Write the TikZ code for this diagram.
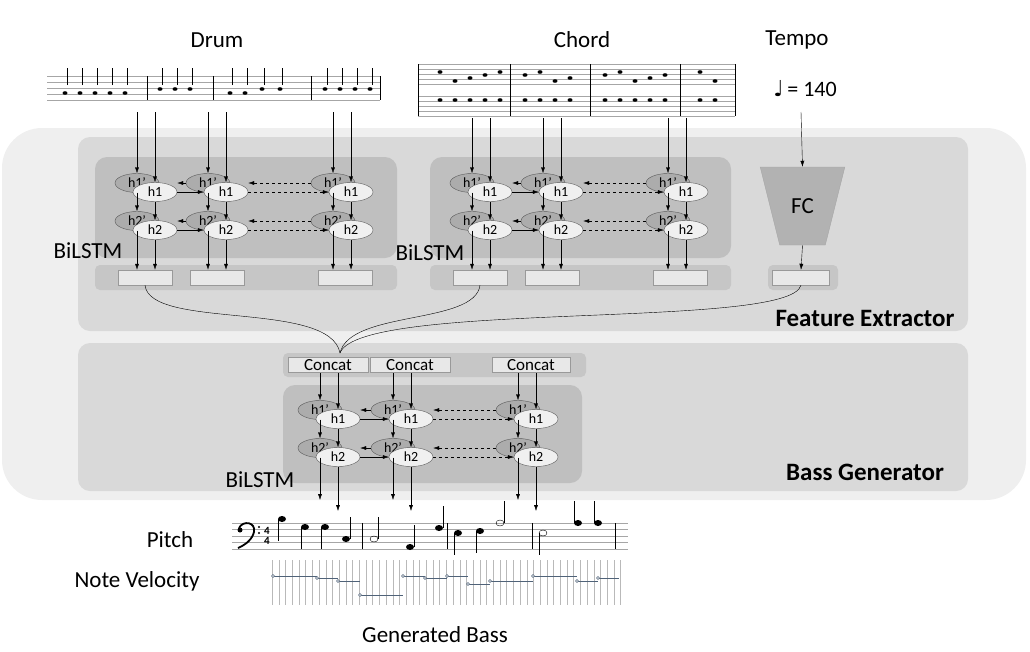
\documentclass[tikz,border=0pt]{standalone}
\usepackage{fontspec}
\setmainfont{Carlito}
\newfontfamily\symfont{DejaVu Sans}
\usetikzlibrary{arrows.meta,shapes.geometric,positioning,calc}
\definecolor{outerbg}{HTML}{EFEFEF}
\definecolor{featbg}{HTML}{D9D9D9}
\definecolor{innerbg}{HTML}{BFBFBF}
\definecolor{barbg}{HTML}{C6C6C6}
\definecolor{velo}{HTML}{4F6278}
\tikzset{
  panel/.style  = {rounded corners=12pt, draw=none},
  cellb/.style  = {ellipse, draw=gray!70!black, fill=gray!65, inner sep=0pt,
                   minimum width=44pt, minimum height=19pt, font=\fontsize{14}{12}\selectfont},
  cellf/.style  = {ellipse, draw=gray!70!black, fill=gray!12, inner sep=0pt,
                   minimum width=44pt, minimum height=19pt, font=\fontsize{14}{12}\selectfont},
  outbox/.style = {draw=gray!80, fill=gray!18, minimum height=15pt, inner sep=0pt},
  arr/.style    = {-{Latex[length=6pt,width=4pt]}, thin},
  label/.style  = {font=\fontsize{23}{23}\selectfont},
  title/.style  = {font=\bfseries\fontsize{25}{25}\selectfont}
}
% one BiLSTM stack: name, three column x, y of h1', y where inputs start
\newcommand{\lstmblock}[6]{%
  \foreach \c/\x in {1/#2,2/#3,3/#4}{
    \node[cellb] (#1\c p1) at (\x,#5) {h1'};
    \node[cellf] (#1\c f1) at (\x+18,#5+9) {h1};
    \node[cellb] (#1\c p2) at (\x,#5+38) {h2'};
    \node[cellf] (#1\c f2) at (\x+18,#5+47) {h2};
    \coordinate (#1\c ip) at (\x,#6);
    \coordinate (#1\c if) at (\x+18,#6);
    \draw[arr] (#1\c ip) -- (#1\c p1);
    \draw[arr] (#1\c if) -- (#1\c f1);
    \draw[arr] (#1\c p1) -- (#1\c p2);
    \draw[arr] (#1\c f1) -- (#1\c f2);
  }
  \foreach \r in {1,2}{
    \draw[arr] (#11f\r.east) -- (#12f\r.west);
    \draw[arr,dashed] (#12f\r.east) -- (#13f\r.west);
    \draw[arr] (#12p\r.west) -- (#11p\r.east -| #11f\r.east);
    \draw[arr,dashed] (#13p\r.west) -- (#12p\r.east -| #12f\r.east);
  }
}
\begin{document}
\begin{tikzpicture}[x=1pt,y=-1pt]
  \useasboundingbox (0,0) rectangle (1030,651);

  % panels
  \fill[outerbg,panel,rounded corners=40pt] (2,128) rectangle (1026,500);
  \fill[featbg,panel] (78,137) rectangle (968,331);
  \fill[featbg,panel] (78,343) rectangle (968,491);
  \fill[innerbg,panel] (95,157) rectangle (397,258);
  \fill[innerbg,panel] (430,157) rectangle (731,258);
  \fill[innerbg,panel] (283,385) rectangle (582,483);
  \fill[barbg,rounded corners=5pt] (95,265) rectangle (397,290);
  \fill[barbg,rounded corners=5pt] (430,265) rectangle (731,290);
  \fill[barbg,rounded corners=5pt] (768,265) rectangle (838,290);
  \fill[barbg,rounded corners=5pt] (283,353) rectangle (586,377);

  % output boxes
  \foreach \n/\x in {d1/145,d2/217,d3/345,c1/480,c2/552,c3/680}
    \node[outbox,minimum width=54pt] (box\n) at (\x,277.5) {};
  \node[outbox,minimum width=57pt] (boxfc) at (801,277.5) {};
  \node[outbox,minimum width=80pt,font=\fontsize{17}{15}\selectfont] (cat1) at (328,365) {Concat};
  \node[outbox,minimum width=80pt,font=\fontsize{17}{15}\selectfont] (cat2) at (410,365) {Concat};
  \node[outbox,minimum width=78pt,font=\fontsize{17}{15}\selectfont] (cat3) at (531,365) {Concat};

  % BiLSTM stacks
  \lstmblock{d}{137}{208}{333}{183}{112}
  \lstmblock{c}{472}{543}{668}{183}{118}
  \lstmblock{b}{320}{393}{518}{410}{373}
  \foreach \c in {1,2,3}{
    \draw[arr] (d\c p2) -- (d\c p2 |- boxd\c.north);
    \draw[arr] (d\c f2) -- (d\c f2 |- boxd\c.north);
    \draw[arr] (c\c p2) -- (c\c p2 |- boxc\c.north);
    \draw[arr] (c\c f2) -- (c\c f2 |- boxc\c.north);
    \coordinate (bo\c p) at ($(b\c p2)+(0,52)$);
    \coordinate (bo\c f) at ($(b\c f2)+(0,54)$);
    \draw[arr] (b\c p2) -- (bo\c p);
    \draw[arr] (b\c f2) -- (bo\c f);
  }

  % FC
  \node[trapezium, trapezium stretches=true, shape border rotate=180,
        minimum width=85pt, minimum height=78pt, fill=gray!60, draw=gray!70,
        label] (fc) at (802.5,206) {FC};
  \coordinate (tempoin) at (801,112);
  \draw[arr,black] (tempoin) -- (fc.north);
  \draw[arr] (fc.south) -- (boxfc.north);

  % merging lines
  \coordinate (merge) at (340,353);
  \draw (boxd1.south) .. controls (150,330) and (330,300) .. (merge);
  \draw (boxc1.south) .. controls (475,325) and (350,310) .. (merge);
  \draw (boxfc.south) .. controls (790,330) and (360,300) .. (merge);

  % labels
  \node[label] (drum) at (217,40) {Drum};
  \node[label] (chord) at (582,40) {Chord};
  \node[label] (tempo) at (797,40) {Tempo};
  \node[label] (bl1) at (88,251) {BiLSTM};
  \node[label] (bl2) at (430,253) {BiLSTM};
  \node[label] (bl3) at (260,480) {BiLSTM};
  \node[title] (fe) at (865,318) {Feature Extractor};
  \node[title] (bg) at (865,472) {Bass Generator};
  \node[label] (pitch) at (170,540) {Pitch};
  \node[label] (vel) at (137,581) {Note Velocity};
  \node[label] (gen) at (435,635) {Generated Bass};
  \node[font=\fontsize{22}{22}\selectfont] (bpm) at (805,89) {{\symfont ♩}\,= 140};

  % drum staff
  \foreach \y in {76,82,88,94,100} \draw[gray!70,very thin] (47,\y) -- (380,\y);
  \foreach \x in {147,213,311,380} \draw[thin] (\x,76) -- (\x,100);
  \foreach \x in {65,80,95,110,125,160,175,190,230,245,262,280,325,340,355,370}{
    \fill ({\x},{85+mod(\x,3)*4}) ellipse (2.5 and 1.8);
    \draw (\x+2,85) -- (\x+2,68);
  }

  % chord grand staff
  \foreach \y in {64,69,74,79,84,96,101,106,111,116} \draw[gray!70,very thin] (418,\y) -- (735,\y);
  \foreach \x in {418,510,590,680,735} \draw[thin] (\x,64) -- (\x,116);
  \foreach \x in {440,455,470,485,500,525,540,555,570,605,620,635,650,665,700,715}{
    \fill ({\x},{72+mod(\x,4)*3}) ellipse (2.5 and 1.8);
    \fill ({\x},{100+mod(\x,5)*3}) ellipse (2.5 and 1.8);
  }

  % pitch staff
  \foreach \y in {523,529.5,536,542.5,549} \draw[gray!70,thin] (232,\y) -- (628,\y);
  \foreach \x in {362,447,532,615} \draw[thick] (\x,523) -- (\x,549);
  % bass clef
  \fill (240,530) circle (2.5);
  \draw[line width=1.8pt] (239,528) .. controls (243,520) and (256,522) .. (254,532)
        .. controls (252,540) and (245,545) .. (238,548);
  \fill (259,527) circle (1.2) (259,533) circle (1.2);
  \node[font=\bfseries\fontsize{11}{10}\selectfont,align=center] (meter) at (267,536) {4\\4};
  \foreach \x/\y in {282/519,305/527,325/527,346/539,410/547,439/528,458/533,480/531,578/523,598/523}
    \fill (\x,\y) ellipse (4 and 3);
  \foreach \x/\y in {374/539,500/523,543/533}
    \draw (\x,\y) ellipse (4 and 3);
  \foreach \x/\y/\s in {278/519/22,301/527/22,321/527/22,350/539/-22,378/539/-22,414/547/-22,443/528/-22,
                        454/533/22,476/531/22,504/523/-22,539/533/22,574/523/-22,594/523/-22}
    \draw (\x,\y) -- (\x,\y+\s);

  % velocity grid
  \foreach \i in {0,...,52} \draw[gray!55,very thin] (272+\i*6.7,560) -- (272+\i*6.7,605);
  \foreach \a/\b/\y in {273/317/576,317/338/578,338/360/581,360/403/595,403/425/576,425/447/578,
                        447/468/576,468/490/584,490/533/581,533/577/576,577/598/581,598/619/578}{
    \draw[velo,thick] (\a,\y) -- (\b,\y);
    \draw[velo,fill=white] (\a,\y) circle (1.5);
  }
\end{tikzpicture}
\end{document}
